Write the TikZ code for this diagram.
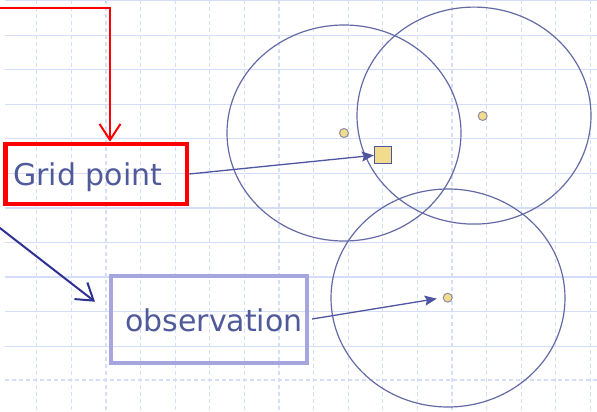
\documentclass[tikz,border=0pt]{standalone}
\usepackage{fontspec}
\setmainfont{DejaVu Sans}
\usetikzlibrary{arrows.meta}
\definecolor{gridc}{RGB}{212,222,250}
\definecolor{txtc}{RGB}{80,90,155}
\definecolor{circc}{RGB}{100,106,165}
\definecolor{dotfill}{RGB}{240,220,140}
\definecolor{dotedge}{RGB}{140,140,165}
\definecolor{sqedge}{RGB}{78,86,160}
\definecolor{obsedge}{RGB}{166,166,222}
\definecolor{navy}{RGB}{46,49,146}
\tikzset{
  gridh/.style={gridc, line width=1.2pt},
  gridv/.style={gridc, line width=1.2pt, dash pattern=on 4pt off 3pt},
  circ/.style={circc, line width=1.2pt},
  obsdot/.style={circle, fill=dotfill, draw=dotedge, line width=1pt, minimum size=9pt, inner sep=0pt},
  gsquare/.style={rectangle, fill=dotfill, draw=sqedge, line width=1.3pt, minimum size=17pt, inner sep=0pt},
  label/.style={text=txtc, font=\fontsize{30}{36}\selectfont, inner sep=0pt, anchor=base west},
  fillarrow/.style={sqedge, line width=1.3pt, -{Stealth[length=12pt, width=10pt, inset=2pt]}},
  openarrow/.style={line width=2pt, -{Straight Barb[length=16pt, width=21pt]}}
}
\begin{document}
\begin{tikzpicture}[x=1pt, y=-1pt]
\useasboundingbox (0,0) rectangle (597,412);
\fill[white] (0,0) rectangle (597,412);
% grid
\foreach \i in {0,...,16} {
  \draw[gridv] ({36.7+34.6*\i},0) -- ({36.7+34.6*\i},412);
}
\foreach \j in {0,...,10} {
  \draw[gridh] (5,{0.6+34.55*\j}) -- (597,{0.6+34.55*\j});
}
\draw[gridv] (5,380) -- (597,380);
% circles
\draw[circ] (344,133) ellipse [x radius=117, y radius=108];
\draw[circ] (474,115.6) ellipse [x radius=117, y radius=108.5];
\draw[circ] (448,298) ellipse [x radius=117, y radius=109];
% dots and grid point
\node[obsdot] (d1) at (344,133) {};
\node[obsdot] (d2) at (482.7,116) {};
\node[obsdot] (d3) at (447.7,297.7) {};
\node[gsquare] (sq) at (383,155.3) {};
% boxes
\node[draw=red, line width=4.5pt, minimum width=181.5pt, minimum height=60pt, inner sep=0pt] (gp) at (96.25,174) {};
\node[label] (gpt) at (13,185) {Grid point};
\node[draw=obsedge, line width=4pt, minimum width=196pt, minimum height=87pt, inner sep=0pt] (obs) at (209,319.5) {};
\node[label] (obst) at (125,331.7) {observation};
% connectors
\draw[fillarrow] (gp.east) -- (sq.west);
\draw[fillarrow, shorten <=3pt, shorten >=6pt] (obs.east) -- (d3.west);
\coordinate (rs) at (0,7.7);
\coordinate (rc) at (110,7.7);
\draw[openarrow, red] (rs) -- (rc) -- (rc |- gp.north);
\coordinate (bs) at (-2,226.5);
\coordinate (be) at (95,301.7);
\draw[openarrow, navy] (bs) -- (be);
\end{tikzpicture}
\end{document}
